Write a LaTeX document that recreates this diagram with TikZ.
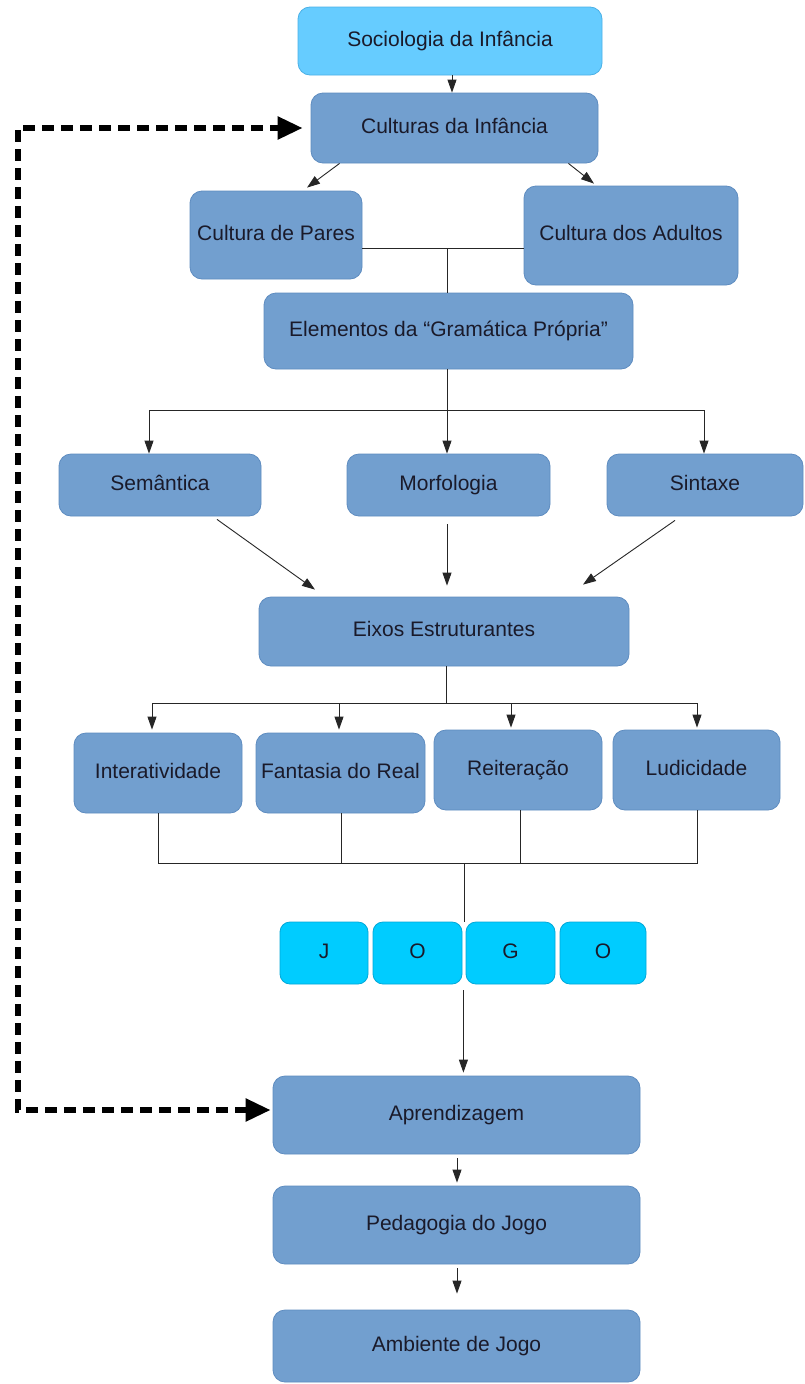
\documentclass[tikz,border=0pt]{standalone}
\usepackage{fontspec}
\setmainfont{Liberation Sans}
\usetikzlibrary{arrows.meta,calc}
\definecolor{boxblue}{HTML}{729FCF}
\definecolor{boxline}{HTML}{5E8CC0}
\definecolor{skyblue}{HTML}{66CCFF}
\definecolor{skyline}{HTML}{4AB0E6}
\definecolor{cyanbox}{HTML}{00CCFF}
\definecolor{cyanline}{HTML}{00A8D8}
\definecolor{txt}{HTML}{1A1A2A}
\begin{document}
\begin{tikzpicture}[x=1pt,y=-1pt,
  box/.style={draw=boxline,line width=0.8pt,fill=boxblue,rounded corners=12pt,
    inner sep=0pt,text=txt,font=\fontsize{21}{24}\selectfont,
    execute at begin node=\vphantom{Ag}},
  topbox/.style={box,fill=skyblue,draw=skyline},
  letter/.style={box,fill=cyanbox,draw=cyanline,rounded corners=10pt},
  conn/.style={draw=black!85,line width=0.9pt},
  arr/.style={conn,-{Triangle[length=13pt,width=9pt]}},
  dasharr/.style={draw=black,line width=5.5pt,dash pattern=on 12pt off 7pt,
    {Triangle[length=25pt,width=22pt]}-{Triangle[length=25pt,width=22pt]}}
]
\useasboundingbox (0,0) rectangle (804,1384);
\fill[white] (0,0) rectangle (804,1384);

\node[topbox,minimum width=304pt,minimum height=68pt] (soc) at (450,41) {Sociologia da Infância};
\node[box,minimum width=287pt,minimum height=70pt] (cult) at (454.5,128) {Culturas da Infância};
\node[box,minimum width=172pt,minimum height=88pt] (pares) at (276,235) {Cultura de Pares};
\node[box,minimum width=214pt,minimum height=99pt] (adult) at (631,235.5) {Cultura dos Adultos};
\node[box,minimum width=369pt,minimum height=76pt] (elem) at (448.5,331) {Elementos da “Gramática Própria”};
\node[box,minimum width=202pt,minimum height=62pt] (sem) at (160,485) {Semântica};
\node[box,minimum width=203pt,minimum height=62pt] (morf) at (448.5,485) {Morfologia};
\node[box,minimum width=196pt,minimum height=62pt] (sint) at (705,485) {Sintaxe};
\node[box,minimum width=370pt,minimum height=69pt] (eixos) at (444,631.5) {Eixos Estruturantes};
\node[box,minimum width=168pt,minimum height=80pt] (inter) at (158,773) {Interatividade};
\node[box,minimum width=169pt,minimum height=80pt] (fant) at (340.5,773) {Fantasia do Real};
\node[box,minimum width=168pt,minimum height=80pt] (reit) at (518,770) {Reiteração};
\node[box,minimum width=167pt,minimum height=80pt] (lud) at (696.5,770) {Ludicidade};
\node[letter,minimum width=88pt,minimum height=62pt] (lj) at (324,953) {J};
\node[letter,minimum width=89pt,minimum height=62pt] (lo1) at (417.5,953) {O};
\node[letter,minimum width=89pt,minimum height=62pt] (lg) at (510.5,953) {G};
\node[letter,minimum width=86pt,minimum height=62pt] (lo2) at (603,953) {O};
\node[box,minimum width=367pt,minimum height=78pt] (apr) at (456.5,1115) {Aprendizagem};
\node[box,minimum width=367pt,minimum height=78pt] (ped) at (456.5,1225) {Pedagogia do Jogo};
\node[box,minimum width=367pt,minimum height=72pt] (amb) at (456.5,1346) {Ambiente de Jogo};

% top
\draw[arr] (soc.south -| 452,0) -- (cult.north -| 452,0);
\draw[arr] ($(cult.south west)+(29,0)$) -- ($(pares.north)+(31,-3)$);
\draw[arr] ($(cult.south east)+(-30,0)$) -- ($(adult.north)+(-37,-2)$);

% pares / adultos join
\coordinate (j1) at (447,248);
\draw[conn] (pares.east |- j1) -- (adult.west |- j1);
\draw[conn] (j1) -- (j1 |- elem.north);

% elementos bus
\coordinate (j2) at (447,410);
\coordinate (b2l) at (149,410);
\coordinate (b2r) at (704,410);
\draw[conn] (elem.south -| j2) -- (j2);
\draw[conn] (b2l) -- (b2r);
\draw[arr] (b2l) -- (b2l |- sem.north);
\draw[arr] (j2) -- (j2 |- morf.north);
\draw[arr] (b2r) -- (b2r |- sint.north);

% to eixos
\draw[arr] ($(sem.south)+(57,3)$) -- ($(eixos.north)+(-129,-7)$);
\draw[arr] ($(morf.south -| 447,0)+(0,8)$) -- ($(eixos.north -| 447,0)+(0,-11)$);
\draw[arr] ($(sint.south)+(-30,4)$) -- ($(eixos.north)+(139,-12)$);

% eixos bus
\coordinate (j3) at (446,703);
\coordinate (b3a) at (152,703);
\coordinate (b3b) at (339,703);
\coordinate (b3c) at (511,703);
\coordinate (b3d) at (697,703);
\draw[conn] (eixos.south -| j3) -- (j3);
\draw[conn] (b3a) -- (b3d);
\draw[arr] (b3a) -- ($(b3a |- inter.north)+(0,-3)$);
\draw[arr] (b3b) -- ($(b3b |- fant.north)+(0,-3)$);
\draw[arr] (b3c) -- ($(b3c |- reit.north)+(0,-2)$);
\draw[arr] (b3d) -- ($(b3d |- lud.north)+(0,-2)$);

% join to JOGO
\coordinate (j4) at (464,863);
\draw[conn] (inter.south -| 158,0) -- (158,863) -- (697,863) -- (lud.south -| 697,0);
\draw[conn] (fant.south -| 341,0) -- (341,863);
\draw[conn] (reit.south -| 520,0) -- (520,863);
\draw[conn] (j4) -- (j4 |- lg.north);

% JOGO to aprendizagem
\draw[arr] ($(lo1.south east)+(1,6)$) -- ($(apr.north -| lo1.south east)+(1,-3)$);
\draw[arr] ($(apr.south -| 457,0)+(0,4)$) -- ($(ped.north -| 457,0)+(0,-3)$);
\draw[arr] ($(ped.south -| 457,0)+(0,4)$) -- ($(amb.north -| 457,0)+(0,-16)$);

% dashed feedback
\draw[dasharr] ($(apr.west)+(-2,-5)$) -- (18,1110) -- (18,128) -- ($(cult.west)+(-8,0)$);
\end{tikzpicture}
\end{document}
